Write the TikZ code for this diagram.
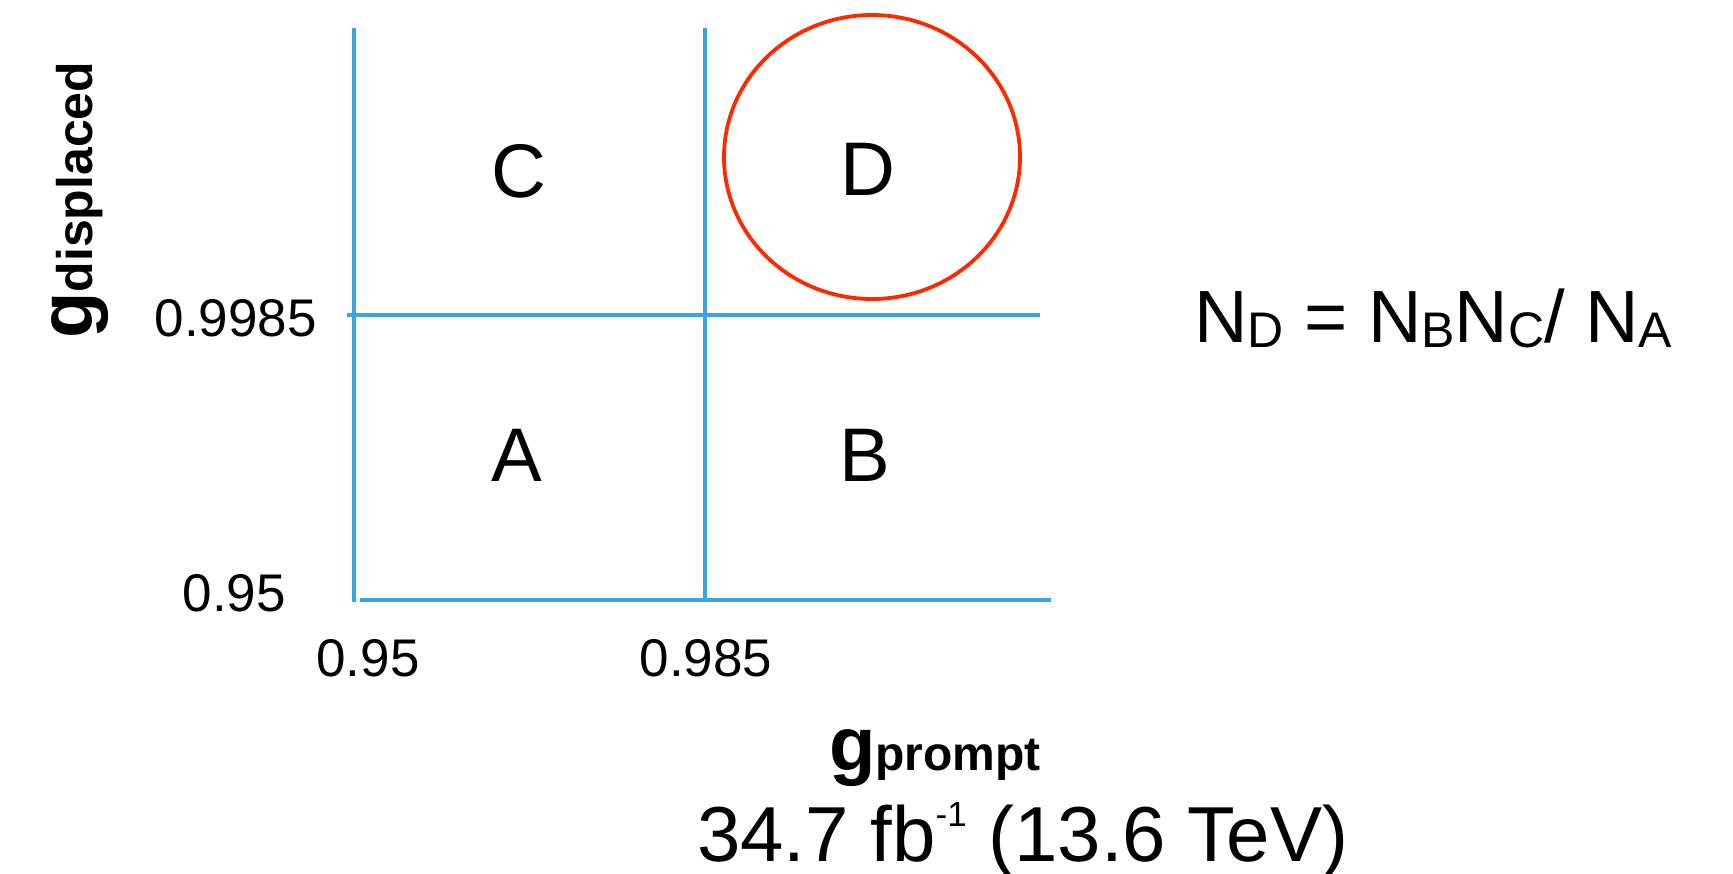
\documentclass[tikz,border=0pt]{standalone}
\usepackage{fontspec}
\setmainfont{Liberation Sans}
\usetikzlibrary{shapes.geometric}
\definecolor{gridblue}{RGB}{54,168,222}
\definecolor{circred}{RGB}{255,40,0}
\newcommand\fsz[1]{\fontsize{#1}{#1}\selectfont}
\newcommand\lowsub[1]{\raisebox{-5pt}{\fsz{50}#1}}
\tikzset{
  gridline/.style={draw=gridblue,line width=4.5pt},
  region/.style={inner sep=0pt,anchor=base,font=\fsz{76}},
  tick/.style={inner sep=0pt,font=\fsz{53}},
  axlabel/.style={inner sep=0pt,font=\bfseries},
}
\begin{document}
\begin{tikzpicture}[x=1pt,y=-1pt]
\useasboundingbox (0,0) rectangle (1733,874);
% grid lines
\coordinate (lvt) at (354,28);
\coordinate (lvb) at (354,602);
\coordinate (mvt) at (705,28);
\coordinate (mvb) at (705,600);
\coordinate (hl) at (347,315);
\coordinate (hr) at (1040,315);
\coordinate (bl) at (360,600);
\coordinate (br) at (1051,600);
\draw[gridline] (lvt) -- (lvb);
\draw[gridline,line width=3.5pt] (mvt) -- (mvb);
\draw[gridline] (hl) -- (hr);
\draw[gridline] (bl) -- (br);
% signal region ellipse
\node (ell) [draw=circred,line width=3.8pt,ellipse,minimum width=296pt,minimum height=284pt,inner sep=0pt] at (872,157) {};
% region labels
\node (C) [region] at (519,198) {C};
\node (D) [region] at (868,196) {D};
\node (A) [region] at (517,482) {A};
\node (B) [region] at (865,482) {B};
% ticks
\node (y1) [tick,anchor=base east] at (317,337) {0.9985};
\node (y0) [tick,anchor=base east] at (286,611) {0.95};
\node (x0) [tick,anchor=base] at (368,676) {0.95};
\node (x1) [tick,anchor=base] at (706,676) {0.985};
% axis labels
\node (gy) [axlabel,rotate=90,anchor=base west] at (92,339) {\fsz{76}g\fsz{50}displaced};
\node (gx) [axlabel,anchor=base west] at (829,770) {\fsz{76}g\fsz{48}prompt};
% luminosity
\node (lumi) [inner sep=0pt,anchor=base west,font=\fsz{78}] at (697,861) {34.7 fb\raisebox{35pt}{\fsz{35}-1} (13.6 TeV)};
% formula
\node (form) [inner sep=0pt,anchor=base west,font=\fsz{74}] at (1194,343) {N\lowsub{D} = N\lowsub{B}N\lowsub{C}/ N\lowsub{A}};
\end{tikzpicture}
\end{document}
